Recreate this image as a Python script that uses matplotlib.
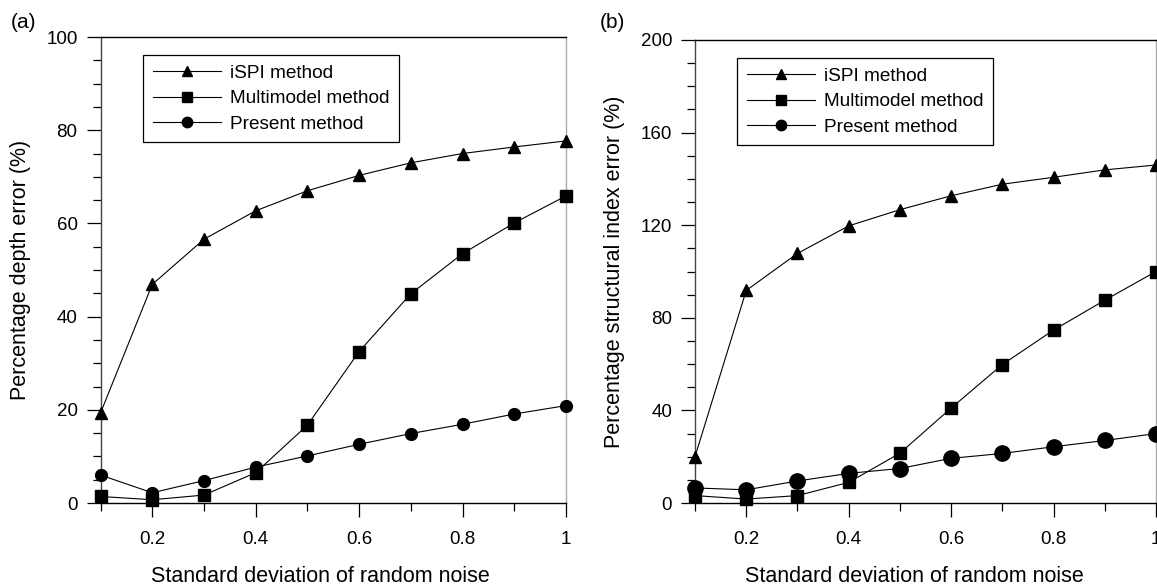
import matplotlib
matplotlib.use("Agg")
import matplotlib.pyplot as plt
from matplotlib.ticker import MultipleLocator, FixedLocator

plt.rcParams['font.family'] = ['Liberation Sans', 'DejaVu Sans']

noise = [0.1, 0.2, 0.3, 0.4, 0.5, 0.6, 0.7, 0.8, 0.9, 1.0]

depth_ispi = [19.3, 46.9, 56.6, 62.7, 67.0, 70.3, 73.0, 75.0, 76.4, 77.7]
depth_multi = [1.4, 0.7, 1.7, 6.5, 16.7, 32.5, 44.9, 53.5, 60.1, 65.9]
depth_present = [6.0, 2.2, 4.8, 7.7, 10.1, 12.6, 14.9, 16.9, 19.1, 20.9]

si_ispi = [20.0, 91.8, 107.8, 119.7, 126.7, 132.7, 137.7, 140.7, 143.9, 146.0]
si_multi = [3.2, 1.7, 3.2, 8.9, 21.5, 41.0, 59.8, 74.7, 87.6, 100.0]
si_present = [6.5, 5.7, 9.5, 12.8, 14.9, 19.3, 21.4, 24.3, 27.0, 30.0]

labels = ['iSPI method', 'Multimodel method', 'Present method']
xticks = [0.2, 0.4, 0.6, 0.8, 1.0]
xticklabels = ['0.2', '0.4', '0.6', '0.8', '1']

W, H = 1157, 587
fig = plt.figure(figsize=(W / 100, H / 100), dpi=100)

def px(l, t, r, b):
    return [l / W, 1 - b / H, (r - l) / W, (b - t) / H]

ax1 = fig.add_axes(px(100.5, 37, 566, 503))
ax2 = fig.add_axes(px(695, 40, 1156, 503))

TICK_FS = 13.5
LABEL_FS = 15.5

def style(ax, ymax, ymajor, yminor, ylabel, xlab_x, ylab_x):
    ax.set_xlim(0.1, 1.0)
    ax.set_ylim(0, ymax)
    ax.xaxis.set_major_locator(FixedLocator(xticks))
    ax.set_xticklabels(xticklabels)
    ax.xaxis.set_minor_locator(FixedLocator([0.1, 0.3, 0.5, 0.7, 0.9]))
    ax.yaxis.set_major_locator(MultipleLocator(ymajor))
    ax.yaxis.set_minor_locator(MultipleLocator(yminor))
    ax.tick_params(axis='both', which='major', direction='out', length=10, width=0.9,
                   labelsize=TICK_FS)
    ax.tick_params(axis='both', which='minor', direction='out', length=5.5, width=0.9)
    ax.tick_params(axis='x', which='major', pad=10.5)
    ax.tick_params(axis='y', which='major', pad=6.5)
    ax.spines['left'].set_color('#444444')
    ax.spines['right'].set_color('#aaaaaa')
    ax.spines['top'].set_color('black')
    ax.spines['bottom'].set_color('black')
    for s in ax.spines.values():
        s.set_linewidth(1.0)
    ax.set_xlabel('Standard deviation of random noise', fontsize=LABEL_FS)
    ax.set_ylabel(ylabel, fontsize=LABEL_FS)
    ax.xaxis.set_label_coords(xlab_x, -0.135)
    ax.yaxis.set_label_coords(ylab_x, 0.5)

def draw(ax, a, b, c, msz_circ):
    ax.plot(noise, a, '-^', color='black', lw=0.8, ms=8, label=labels[0], clip_on=False, zorder=3)
    ax.plot(noise, b, '-s', color='black', lw=0.8, ms=8, label=labels[1], clip_on=False, zorder=3)
    ax.plot(noise, c, '-o', color='black', lw=0.8, ms=msz_circ, label=labels[2], clip_on=False, zorder=3)
    leg = ax.legend(loc='upper left', bbox_to_anchor=(0.092, 0.961), fontsize=13.7,
                    frameon=True, fancybox=False, edgecolor='black', framealpha=1,
                    handlelength=3.6, borderpad=0.5, labelspacing=0.42, handletextpad=0.45,
                    borderaxespad=0)
    leg.get_frame().set_linewidth(0.9)
    for h, m in zip(leg.legend_handles, [7, 7.5, 7.5]):
        h.set_markersize(m)

draw(ax1, depth_ispi, depth_multi, depth_present, 8.5)
style(ax1, 100, 20, 5, 'Percentage depth error (%)', 0.4715, -0.149)
draw(ax2, si_ispi, si_multi, si_present, 11)
style(ax2, 200, 40, 10, 'Percentage structural index error (%)', 0.475, -0.152)

fig.text(23 / W, 1 - 22 / H, '(a)', fontsize=15, va='center', ha='center')
fig.text(612 / W, 1 - 23 / H, '(b)', fontsize=15, va='center', ha='center')

fig.savefig('out.png', dpi=100)
